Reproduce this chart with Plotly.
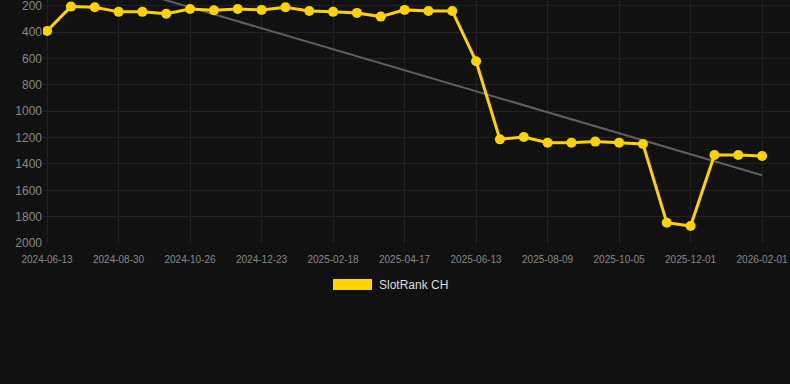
import numpy as np
import plotly.graph_objects as go

dates = [
    "2024-06-13", "2024-07-09", "2024-08-04", "2024-08-30", "2024-09-18", "2024-10-07",
    "2024-10-26", "2024-11-14", "2024-12-04", "2024-12-23", "2025-01-11", "2025-01-30",
    "2025-02-18", "2025-03-09", "2025-03-28", "2025-04-17", "2025-05-06", "2025-05-25",
    "2025-06-13", "2025-07-02", "2025-07-21", "2025-08-09", "2025-08-28", "2025-09-16",
    "2025-10-05", "2025-10-24", "2025-11-12", "2025-12-01", "2025-12-21", "2026-01-11",
    "2026-02-01",
]
ranks = [
    390, 205, 210, 245, 245, 260,
    223, 233, 223, 230, 210, 238,
    245, 253, 281, 230, 238, 238,
    620, 1213, 1195, 1238, 1238, 1230,
    1238, 1248, 1846, 1871, 1332, 1332,
    1340,
]
tick_labels = dates[::3]
y_ticks = [200, 400, 600, 800, 1000, 1200, 1400, 1600, 1800, 2000]
series_name = "SlotRank CH"

idx = np.arange(len(dates))
slope, intercept = np.polyfit(idx, ranks, 1)
trend = slope * idx + intercept

fig = go.Figure()
fig.add_trace(go.Scatter(
    x=dates, y=trend, mode="lines",
    line=dict(color="#606060", width=2),
    showlegend=False, hoverinfo="skip",
))
fig.add_trace(go.Scatter(
    x=dates, y=ranks, mode="lines+markers", name=series_name,
    line=dict(color="#FFD200", width=3),
    marker=dict(color="#FFD200", size=10),
    showlegend=False,
))

fig.update_layout(
    width=790, height=384,
    paper_bgcolor="#111111", plot_bgcolor="#111111",
    margin=dict(l=43, r=0, t=0, b=141),
    font=dict(family="Liberation Sans, Arial, sans-serif", color="#888888"),
    xaxis=dict(
        type="category", range=[-0.17, 31.17],
        tickmode="array", tickvals=tick_labels, ticktext=tick_labels,
        tickfont=dict(size=10, color="#888888"),
        showgrid=True, gridcolor="#222222", gridwidth=1,
        zeroline=False, showline=False,
        ticks="outside", ticklen=7, tickcolor="rgba(0,0,0,0)",
        ticklabeloverflow="allow",
    ),
    yaxis=dict(
        range=[2000, 155], tickmode="array", tickvals=y_ticks,
        tickfont=dict(size=12, color="#888888"),
        showgrid=True, gridcolor="#222222", gridwidth=1,
        zeroline=False, showline=False, ticks="",
        ticklabeloverflow="allow",
    ),
    shapes=[dict(
        type="rect", xref="paper", yref="paper",
        x0=(333 - 43) / 747, x1=(372 - 43) / 747,
        y0=(243 - 290) / 243, y1=(243 - 279) / 243,
        fillcolor="#FFD200", line=dict(width=0),
    )],
    annotations=[dict(
        text=series_name, xref="paper", yref="paper",
        x=(377 - 43) / 747, y=(243 - 284.5) / 243,
        xanchor="left", yanchor="middle", showarrow=False,
        font=dict(size=12, color="#dddddd"),
    )],
)

fig.write_html("out.html", config={"displayModeBar": False})
with open("out.html", "r", encoding="utf-8") as f:
    html = f.read()
html = html.replace("<body>", '<body style="margin:0;background:#111111">', 1)
with open("out.html", "w", encoding="utf-8") as f:
    f.write(html)
